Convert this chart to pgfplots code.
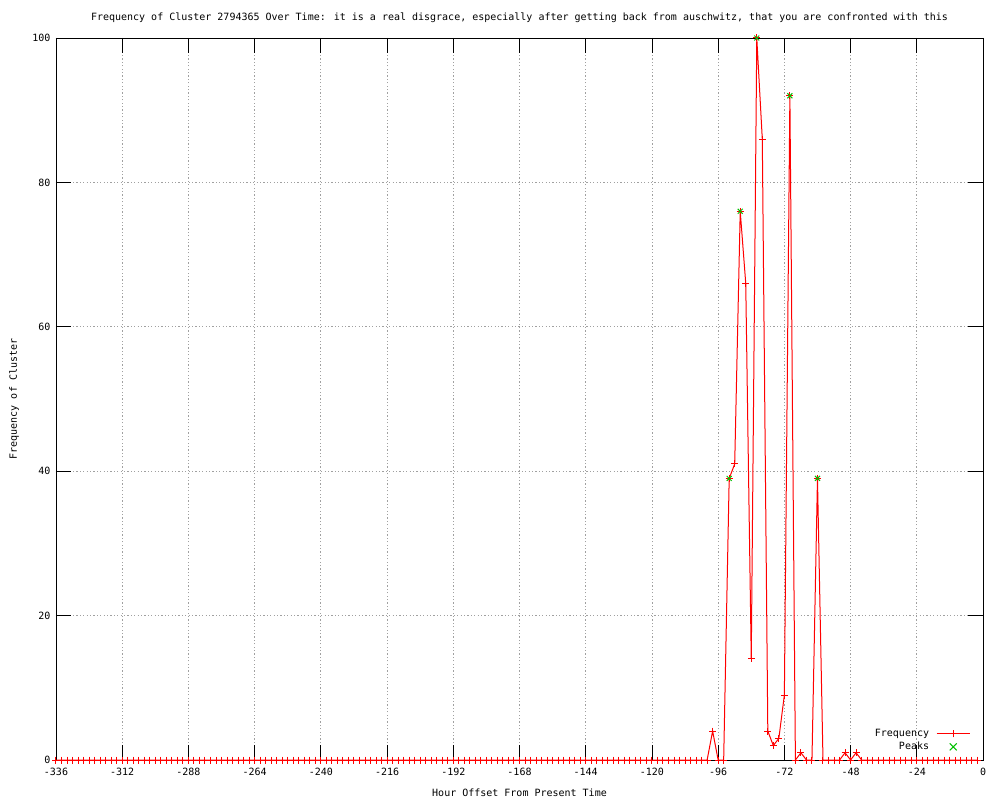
\documentclass[border=0pt]{standalone}
\usepackage{pgfplots}
\pgfplotsset{compat=1.18}
\usepackage{fontspec}
\setmainfont{DejaVu Sans Mono}
\definecolor{gpred}{RGB}{255,0,0}
\definecolor{gpgreen}{RGB}{0,192,0}
\definecolor{gpgrid}{RGB}{160,160,160}
\begin{document}
\begin{tikzpicture}[font=\fontsize{10}{12}\selectfont]
\useasboundingbox (-56pt,-40pt) rectangle (944pt,760pt);
\begin{axis}[
  at={(0pt,0pt)}, anchor=south west,
  scale only axis, width=927pt, height=722pt,
  xmin=-336, xmax=0, ymin=0, ymax=100,
  xtick={-336,-312,...,0},
  xticklabels={-336,-312,-288,-264,-240,-216,-192,-168,-144,-120,-96,-72,-48,-24,0},
  ytick={0,20,40,60,80,100},
  yticklabels={0,20,40,60,80,100},
  major tick length=15pt,
  tick style={black, line width=0.8pt},
  axis line style={black, line width=0.8pt},
  grid=major,
  grid style={gpgrid, line width=0.8pt, dash pattern=on 1.2pt off 2.2pt},
  xticklabel style={anchor=center, yshift=-12pt},
  yticklabel style={anchor=east, xshift=-2pt},
  every axis title/.style={at={(axis description cs:0.5,1.0277)}, anchor=center},
  every axis x label/.style={at={(axis description cs:0.5,-0.0457)}, anchor=center},
  every axis y label/.style={at={(axis description cs:-0.0453,0.5)}, rotate=90, anchor=center},
  title={Frequency of Cluster 2794365 Over Time: it is a real disgrace, especially after getting back from auschwitz, that you are confronted with this},
  xlabel={Hour Offset From Present Time},
  ylabel={Frequency of Cluster},
  clip=false,
  legend plot pos=right,
  legend cell align=right,
  legend style={draw=none, fill=none, at={(axis description cs:0.9865,0.011)}, anchor=south east,
    inner sep=0pt, nodes={inner sep=0pt, text height=7.5pt, text depth=2.5pt}, row sep=3pt, column sep=7pt},
]
\addplot[color=gpred, draw=gpred, line width=1pt, mark=+, mark size=3.5pt, mark options={draw=gpred, solid},
  legend image code/.code={\draw[gpred, line width=1.2pt] (0pt,0pt) -- (33pt,0pt);
    \draw[gpred, line width=1pt] (16.5pt,-3.5pt) -- (16.5pt,3.5pt);}]
coordinates {
(-336,0)(-334,0)(-332,0)(-330,0)(-328,0)(-326,0)(-324,0)(-322,0)(-320,0)(-318,0)
(-316,0)(-314,0)(-312,0)(-310,0)(-308,0)(-306,0)(-304,0)(-302,0)(-300,0)(-298,0)
(-296,0)(-294,0)(-292,0)(-290,0)(-288,0)(-286,0)(-284,0)(-282,0)(-280,0)(-278,0)
(-276,0)(-274,0)(-272,0)(-270,0)(-268,0)(-266,0)(-264,0)(-262,0)(-260,0)(-258,0)
(-256,0)(-254,0)(-252,0)(-250,0)(-248,0)(-246,0)(-244,0)(-242,0)(-240,0)(-238,0)
(-236,0)(-234,0)(-232,0)(-230,0)(-228,0)(-226,0)(-224,0)(-222,0)(-220,0)(-218,0)
(-216,0)(-214,0)(-212,0)(-210,0)(-208,0)(-206,0)(-204,0)(-202,0)(-200,0)(-198,0)
(-196,0)(-194,0)(-192,0)(-190,0)(-188,0)(-186,0)(-184,0)(-182,0)(-180,0)(-178,0)
(-176,0)(-174,0)(-172,0)(-170,0)(-168,0)(-166,0)(-164,0)(-162,0)(-160,0)(-158,0)
(-156,0)(-154,0)(-152,0)(-150,0)(-148,0)(-146,0)(-144,0)(-142,0)(-140,0)(-138,0)
(-136,0)(-134,0)(-132,0)(-130,0)(-128,0)(-126,0)(-124,0)(-122,0)(-120,0)(-118,0)
(-116,0)(-114,0)(-112,0)(-110,0)(-108,0)(-106,0)(-104,0)(-102,0)(-100,0)
(-98,4)(-96,0)(-94,0)(-92,39)(-90,41)(-88,76)(-86,66)(-84,14)(-82,100)(-80,86)
(-78,4)(-76,2)(-74,3)(-72,9)(-70,92)(-68,0)(-66,1)(-64,0)(-62,0)(-60,39)
(-58,0)(-56,0)(-54,0)(-52,0)(-50,1)(-48,0)(-46,1)(-44,0)(-42,0)(-40,0)
(-38,0)(-36,0)(-34,0)(-32,0)(-30,0)(-28,0)(-26,0)(-24,0)(-22,0)(-20,0)
(-18,0)(-16,0)(-14,0)(-12,0)(-10,0)(-8,0)(-6,0)(-4,0)(-2,0)
};
\addlegendentry{Frequency}
\addplot[color=gpgreen, only marks, line width=1pt, mark=x, mark size=3.5pt, mark options={draw=gpgreen, solid},
  legend image code/.code={\draw[gpgreen, line width=1pt] (13pt,-3.5pt) -- (20pt,3.5pt) (13pt,3.5pt) -- (20pt,-3.5pt);}]
coordinates {(-92,39)(-88,76)(-82,100)(-70,92)(-60,39)};
\addlegendentry{Peaks}
\end{axis}
\end{tikzpicture}
\end{document}
